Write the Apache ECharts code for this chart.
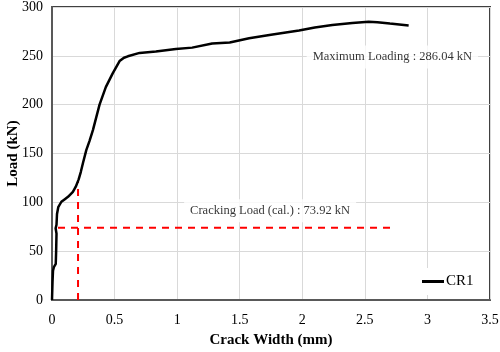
<!DOCTYPE html>
<html><head><meta charset="utf-8">
<script src="https://cdn.jsdelivr.net/npm/echarts@6/dist/echarts.min.js"></script>
<style>html,body{margin:0;padding:0;background:#fff}#c{width:500px;height:352px}</style>
</head><body><div id="c"></div>
<script>
// Crack width (mm) vs load (kN), CR1
const cr1 = [[0,0],[0.004,18],[0.008,30],[0.016,34],[0.03,37],[0.033,50],[0.036,68],[0.029,73.5],[0.036,77],[0.04,88],[0.05,95],
[0.075,100.6],[0.1,103],[0.128,105.7],[0.167,110.8],[0.19,116],[0.213,123.5],[0.23,131],[0.247,140],[0.274,153.5],[0.3,163],
[0.327,174],[0.38,200],[0.43,218],[0.485,232],[0.54,244.6],[0.575,248],[0.606,249.5],[0.7,253],[0.83,254.5],[0.99,257],
[1.12,258.4],[1.28,262.7],[1.42,263.7],[1.575,268],[1.75,271.5],[1.974,276],[2.1,279],[2.24,281.5],[2.4,283.5],[2.53,285],
[2.6,284.5],[2.7,283],[2.85,281]];
const crackH = [[0.048,73.92],[2.705,73.92]];
const crackV = [[0.208,0],[0.208,122]];
const xTicks = {min:0, max:3.5, interval:0.5};
const yTicks = {min:0, max:300, interval:50};
const annMax = {pos:[2.72,248.7], text:'Maximum Loading : 286.04 kN'};
const annCrack = {pos:[1.743,91.4], text:'Cracking Load (cal.) : 73.92 kN'};

const font = 'Liberation Serif';
const chart = echarts.init(document.getElementById('c'));
chart.setOption({
  animation:false,
  grid:{left:52,right:10,top:7,bottom:52,show:true,borderColor:'#404040',borderWidth:2,containLabel:false,outerBoundsMode:'none'},
  xAxis:{type:'value',min:xTicks.min,max:xTicks.max,interval:xTicks.interval,
    name:'Crack Width (mm)',nameLocation:'middle',nameGap:33,nameMoveOverlap:false,
    nameTextStyle:{fontFamily:font,fontWeight:'bold',fontSize:15,color:'#000'},
    axisLine:{show:true,lineStyle:{color:'#595959',width:2}},axisTick:{show:false},
    axisLabel:{fontFamily:font,fontSize:14,color:'#000',margin:13},
    splitLine:{show:true,lineStyle:{color:'#d9d9d9',width:1}}},
  yAxis:{type:'value',min:yTicks.min,max:yTicks.max,interval:yTicks.interval,
    name:'Load (kN)',nameLocation:'middle',nameGap:31,nameMoveOverlap:false,
    nameTextStyle:{fontFamily:font,fontWeight:'bold',fontSize:15,color:'#000'},
    axisLine:{show:true,lineStyle:{color:'#595959',width:2}},axisTick:{show:false},
    axisLabel:{fontFamily:font,fontSize:14,color:'#000',margin:9},
    splitLine:{show:true,lineStyle:{color:'#d9d9d9',width:1}}},
  legend:{data:['CR1'],left:420,top:268,itemWidth:22,itemHeight:3,icon:'rect',itemGap:2,
    backgroundColor:'#fff',padding:[6,8,6,2],
    textStyle:{fontFamily:font,fontSize:15,color:'#000',padding:[0,0,0,-3]}},
  series:[
    {name:'CrackH',type:'line',data:crackH,showSymbol:false,silent:true,z:3,
      lineStyle:{color:'#ff0000',width:2,type:[7,6]}},
    {name:'CrackV',type:'line',data:crackV,showSymbol:false,silent:true,z:3,
      lineStyle:{color:'#ff0000',width:2,type:[7,6]}},
    {name:'CR1',type:'line',data:cr1,showSymbol:false,z:4,
      itemStyle:{color:'#000'},lineStyle:{color:'#000',width:2.5}},
    {name:'ann',type:'scatter',symbolSize:0,silent:true,z:5,
      data:[{value:annMax.pos,label:{formatter:annMax.text}},{value:annCrack.pos,label:{formatter:annCrack.text}}],
      label:{show:true,position:'inside',fontFamily:font,fontSize:12.5,color:'#000',
        backgroundColor:'#fff',padding:[5,6]}}
  ]
});
</script></body></html>
